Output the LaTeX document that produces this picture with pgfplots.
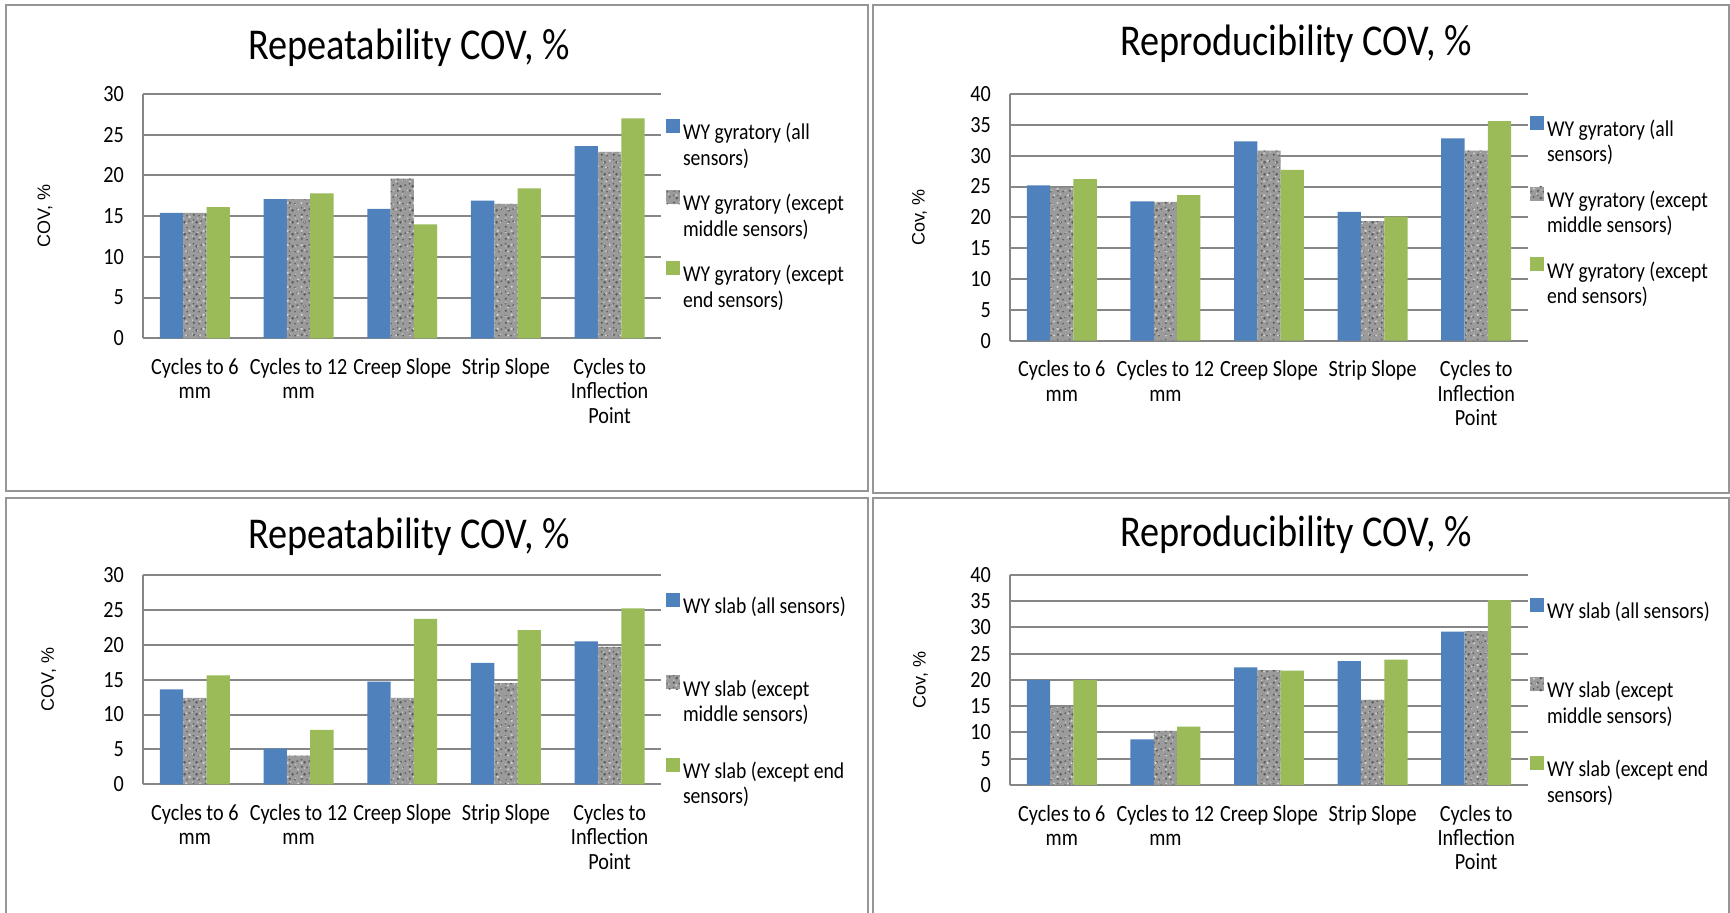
\documentclass[border=0pt]{standalone}
\usepackage{pgfplots}
\pgfplotsset{compat=1.18}
\usepackage{fontspec}
\setmainfont{Carlito}[FakeStretch=0.87]
\newfontfamily\labelfont{Liberation Sans}
\usetikzlibrary{patterns}

\definecolor{wyblue}{RGB}{79,129,189}
\definecolor{wygreen}{RGB}{155,187,89}
\definecolor{wygray}{RGB}{155,155,155}
\definecolor{speckdark}{RGB}{95,95,95}
\definecolor{specklight}{RGB}{208,208,208}
\definecolor{gridgray}{RGB}{134,134,134}
\definecolor{framegray}{RGB}{150,150,150}

% irregular speckles for the stone-textured series
\pgfdeclarepatternformonly{speckA}{\pgfqpoint{0pt}{0pt}}{\pgfqpoint{6pt}{6pt}}{\pgfqpoint{6pt}{6pt}}{%
  \pgfpathcircle{\pgfqpoint{1.0pt}{1.2pt}}{0.7pt}
  \pgfpathcircle{\pgfqpoint{3.8pt}{0.7pt}}{0.5pt}
  \pgfpathcircle{\pgfqpoint{2.5pt}{3.6pt}}{0.8pt}
  \pgfpathcircle{\pgfqpoint{5.0pt}{4.2pt}}{0.55pt}
  \pgfpathcircle{\pgfqpoint{0.8pt}{5.0pt}}{0.45pt}
  \pgfusepath{fill}}
\pgfdeclarepatternformonly{speckB}{\pgfqpoint{0pt}{0pt}}{\pgfqpoint{7pt}{7pt}}{\pgfqpoint{7pt}{7pt}}{%
  \pgfpathcircle{\pgfqpoint{2.2pt}{1.9pt}}{0.6pt}
  \pgfpathcircle{\pgfqpoint{5.6pt}{2.6pt}}{0.45pt}
  \pgfpathcircle{\pgfqpoint{4.1pt}{5.4pt}}{0.7pt}
  \pgfpathcircle{\pgfqpoint{0.9pt}{4.6pt}}{0.4pt}
  \pgfusepath{fill}}

\newcommand\ticksfont{\fontsize{11.6}{12.2}\selectfont}
\newcommand\legfont{\fontsize{11.3}{11.6}\selectfont}
\newcommand\ylabfont{\labelfont\fontsize{9}{10.5}\selectfont}
\newcommand\titlefont{\fontsize{22}{25}\selectfont}
% two-line legend entry whose baseline is that of its first line
\newcommand\twoline[2]{\vtop{\hbox{\strut#1}\hbox{\strut#2}}}

\pgfplotsset{
  allsens/.style={fill=wyblue, draw=none},
  midsens/.style={fill=wygray, draw=none,
    postaction={pattern=speckA, pattern color=speckdark},
    postaction={pattern=speckB, pattern color=specklight}},
  endsens/.style={fill=wygreen, draw=none},
  covbase/.style={
    scale only axis,
    ybar=0pt, bar width=0.225,
    xmin=-0.5, xmax=4.5, ymin=0,
    enlargelimits=false,
    xtick={0,1,2,3,4},
    xticklabels={{Cycles to 6\\mm},{Cycles to 12\\mm},{Creep Slope},{Strip Slope},{Cycles to\\Inflection\\Point}},
    xticklabel style={align=center, font=\ticksfont, yshift=-6.5pt},
    yticklabel style={font=\ticksfont, xshift=-6pt},
    /pgf/number format/assume math mode=true,
    major tick length=0pt,
    axis x line*=bottom, axis y line*=left,
    axis line style={draw=gridgray, line width=1pt, -},
    ymajorgrids, major grid style={draw=gridgray, line width=1pt},
    legend cell align=left,
    legend style={draw=none, fill=none, anchor=north west, font=\legfont,
      inner sep=0pt, outer sep=0pt, nodes={inner sep=0pt, outer sep=0pt},
      column sep=1.5pt},
    legend image code/.code={\fill[##1] (0pt,0pt) rectangle (7pt,7pt);},
    every axis y label/.style={rotate=90, anchor=center, font=\ylabfont},
  },
}

\begin{document}
\begin{tikzpicture}
\clip (0,0) rectangle (865pt,456.5pt);
\fill[white] (0,0) rectangle (865pt,456.5pt);

% panel frames
\begin{scope}[framegray, line width=1pt]
\draw (2.75pt,210.75pt) rectangle (434pt,454pt);
\draw (436.5pt,210pt) rectangle (864.25pt,454pt);
\draw (2.75pt,-5pt) rectangle (434pt,207.5pt);
\draw (436.5pt,-5pt) rectangle (864.25pt,207.5pt);
\end{scope}

% titles
\node[anchor=base, font=\titlefont] at (204.5pt,426.85pt) {Repeatability COV, \%};
\node[anchor=base, font=\titlefont] at (648pt,428.5pt) {Reproducibility COV, \%};
\node[anchor=base, font=\titlefont] at (204.5pt,182.3pt) {Repeatability COV, \%};
\node[anchor=base, font=\titlefont] at (648pt,183.2pt) {Reproducibility COV, \%};

% gyratory, repeatability
\begin{axis}[covbase, at={(71.5pt,287.35pt)}, anchor=south west,
  width=259.25pt, height=122.15pt, ymax=30, ytick={0,5,...,30},
  ylabel={COV, \%}, ylabel style={at={(axis description cs:-0.189,0.5)}},
  legend style={at={(1.0087,0.8967)}, row sep=23.6pt}]
\addplot[allsens] coordinates {(0,15.4) (1,17.1) (2,15.9) (3,16.9) (4,23.6)};
\addplot[midsens] coordinates {(0,15.4) (1,17.1) (2,19.6) (3,16.5) (4,22.9)};
\addplot[endsens] coordinates {(0,16.1) (1,17.8) (2,14.0) (3,18.4) (4,27.0)};
\addlegendentry{\twoline{WY gyratory (all}{sensors)}}
\addlegendentry{\twoline{WY gyratory (except}{middle sensors)}}
\addlegendentry{\twoline{WY gyratory (except}{end sensors)}}
\end{axis}

% gyratory, reproducibility
\begin{axis}[covbase, at={(505pt,286.15pt)}, anchor=south west,
  width=259pt, height=123.35pt, ymax=40, ytick={0,5,...,40},
  ylabel={Cov, \%}, ylabel style={at={(axis description cs:-0.1749,0.5)}},
  legend style={at={(1.0039,0.9126)}, row sep=23.6pt}]
\addplot[allsens] coordinates {(0,25.2) (1,22.6) (2,32.3) (3,20.9) (4,32.8)};
\addplot[midsens] coordinates {(0,24.8) (1,22.5) (2,30.8) (3,19.4) (4,30.8)};
\addplot[endsens] coordinates {(0,26.2) (1,23.6) (2,27.7) (3,20.1) (4,35.6)};
\addlegendentry{\twoline{WY gyratory (all}{sensors)}}
\addlegendentry{\twoline{WY gyratory (except}{middle sensors)}}
\addlegendentry{\twoline{WY gyratory (except}{end sensors)}}
\end{axis}

% slab, repeatability
\begin{axis}[covbase, at={(71.5pt,64.35pt)}, anchor=south west,
  width=259.25pt, height=104.65pt, ymax=30, ytick={0,5,...,30},
  ylabel={COV, \%}, ylabel style={at={(axis description cs:-0.1817,0.5)}},
  legend style={at={(1.0087,0.913)}, row sep=29.2pt}]
\addplot[allsens] coordinates {(0,13.6) (1,5.1) (2,14.7) (3,17.4) (4,20.5)};
\addplot[midsens] coordinates {(0,12.4) (1,4.1) (2,12.4) (3,14.5) (4,19.7)};
\addplot[endsens] coordinates {(0,15.6) (1,7.8) (2,23.7) (3,22.1) (4,25.2)};
\addlegendentry{\twoline{WY slab (all sensors)}{}}
\addlegendentry{\twoline{WY slab (except}{middle sensors)}}
\addlegendentry{\twoline{WY slab (except end}{sensors)}}
\end{axis}

% slab, reproducibility
\begin{axis}[covbase, at={(505pt,64pt)}, anchor=south west,
  width=259pt, height=105pt, ymax=40, ytick={0,5,...,40},
  ylabel={Cov, \%}, ylabel style={at={(axis description cs:-0.1726,0.5)}},
  legend style={at={(1.0039,0.8895)}, row sep=27.6pt}]
\addplot[allsens] coordinates {(0,20.0) (1,8.7) (2,22.4) (3,23.6) (4,29.2)};
\addplot[midsens] coordinates {(0,14.9) (1,10.3) (2,21.9) (3,16.2) (4,29.3)};
\addplot[endsens] coordinates {(0,20.0) (1,11.1) (2,21.8) (3,23.9) (4,35.2)};
\addlegendentry{\twoline{WY slab (all sensors)}{}}
\addlegendentry{\twoline{WY slab (except}{middle sensors)}}
\addlegendentry{\twoline{WY slab (except end}{sensors)}}
\end{axis}
\end{tikzpicture}
\end{document}
